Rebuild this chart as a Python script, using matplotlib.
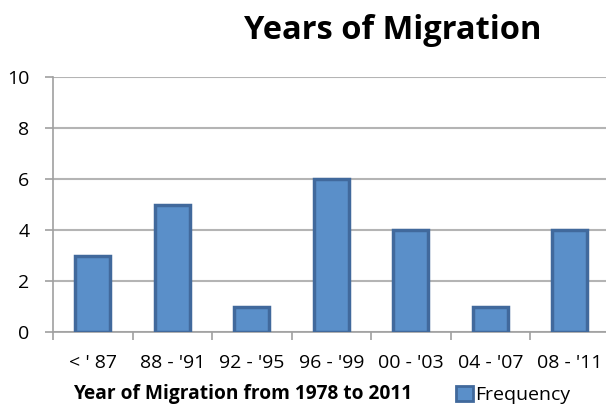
import numpy as np
import matplotlib.pyplot as plt
from matplotlib.patches import Patch

periods = ["< ' 87", "88 - '91", "92 - '95", "96 - '99", "00 - '03", "04 - '07", "08 - '11"]
frequency = [3, 5, 1, 6, 4, 1, 4]
y_ticks = [0, 2, 4, 6, 8, 10]

plt.rcParams['font.family'] = ['Open Sans', 'DejaVu Sans']

fig = plt.figure(figsize=(6.06, 4.05), dpi=100)
ax = fig.add_axes([53 / 606, 1 - 332 / 405, 556.5 / 606, 255 / 405])

x = np.arange(len(periods))
ax.bar(x, frequency, width=0.44, color='#5A8FC9', edgecolor='#41699C',
       linewidth=2.5, zorder=3)

ax.set_xlim(-0.5, len(periods) - 0.5)
ax.set_ylim(0, 10)
ax.set_yticks(y_ticks)
ax.set_yticklabels([str(v) for v in y_ticks], fontsize=14)

# category labels sit between the boundary ticks
ax.set_xticks(np.arange(-0.5, len(periods), 1.0))
ax.set_xticklabels([])
ax.set_xticks(x, minor=True)
ax.set_xticklabels(periods, minor=True, fontsize=14)
ax.tick_params(axis='x', which='minor', length=0, pad=16)
ax.tick_params(axis='x', which='major', length=6, color='#A0A0A0', width=1.2)
ax.tick_params(axis='y', length=6, color='#A0A0A0', width=1.2, pad=11)

ax.grid(axis='y', color='#B4B4B4', linewidth=1.5, zorder=0)
for side in ['top', 'right']:
    ax.spines[side].set_visible(False)
for side in ['left', 'bottom']:
    ax.spines[side].set_color('#A0A0A0')
    ax.spines[side].set_linewidth(1.2)

fig.text(393 / 606, 1 - 39 / 405, 'Years of Migration', fontsize=23.5,
         fontweight='bold', ha='center', va='baseline')
fig.text(73 / 606, 1 - 404 / 405, 'Year of Migration from 1978 to 2011',
         fontsize=13.8, fontweight='bold', ha='left', va='bottom')

handle = Patch(facecolor='#5A8FC9', edgecolor='#41699C', linewidth=2)
fig.legend([handle], ['Frequency'], loc='center left',
           bbox_to_anchor=(456 / 606, 1 - 395 / 405), frameon=False,
           fontsize=14, handlelength=0.85, handleheight=0.85, handletextpad=0.15,
           borderpad=0, borderaxespad=0)

fig.savefig('out.png', dpi=100)
